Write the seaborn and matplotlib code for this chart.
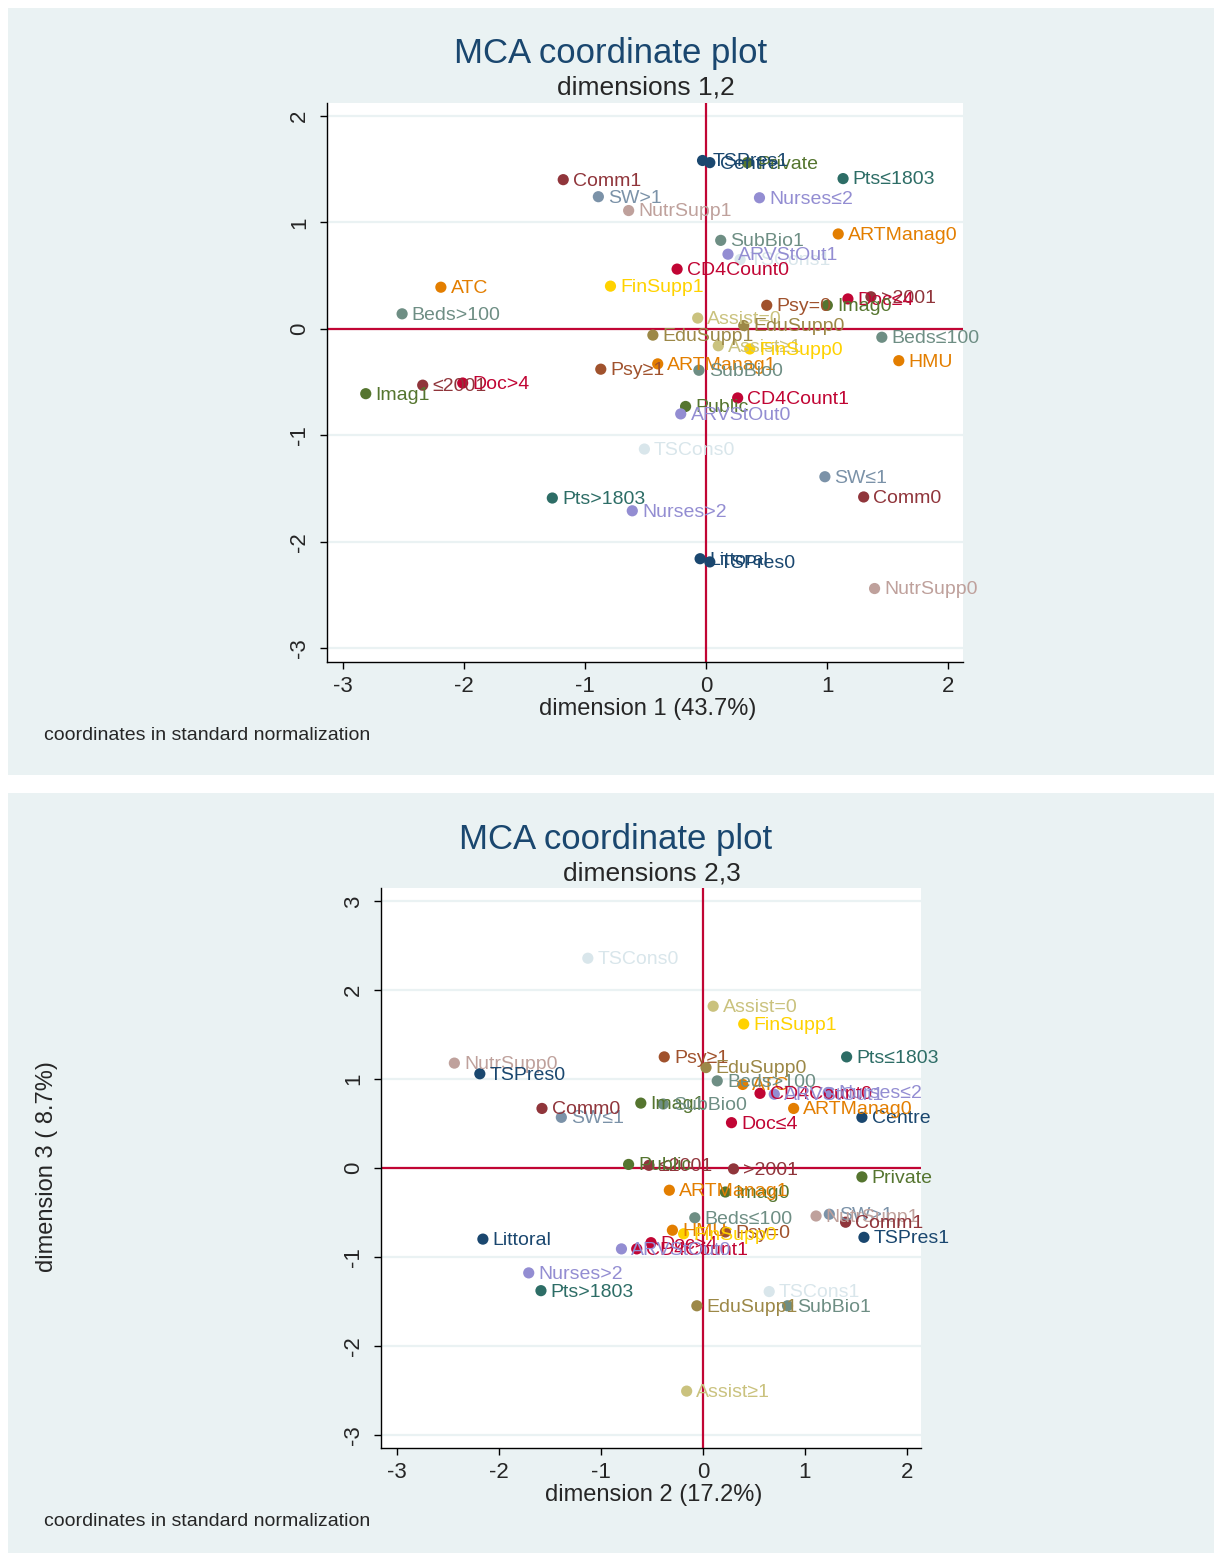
import numpy as np
import pandas as pd
import matplotlib
matplotlib.use("Agg")
import matplotlib.pyplot as plt
from matplotlib.patches import Rectangle
import seaborn as sns

# ---- data: MCA coordinates (variables in stata's order) ----
categories = ["Centre", "Littoral", "≤2001", ">2001", "Private", "Public",
              "ATC", "HMU", "Beds≤100", "Beds>100", "Doc≤4", "Doc>4",
              "Nurses≤2", "Nurses>2", "Assist=0", "Assist≥1", "Psy=0", "Psy≥1",
              "SW≤1", "SW>1", "Pts≤1803", "Pts>1803", "EduSupp0", "EduSupp1",
              "NutrSupp0", "NutrSupp1", "FinSupp0", "FinSupp1", "TSCons0", "TSCons1",
              "TSPres0", "TSPres1", "Comm0", "Comm1", "Imag0", "Imag1",
              "ARTManag0", "ARTManag1", "SubBio0", "SubBio1", "CD4Count0", "CD4Count1",
              "ARVStOut0", "ARVStOut1"]
dim1 = [0.03, -0.05, -2.34, 1.36, 0.34, -0.17,
        -2.19, 1.59, 1.45, -2.51, 1.17, -2.01,
        0.44, -0.61, -0.07, 0.10, 0.50, -0.87,
        0.98, -0.89, 1.13, -1.27, 0.31, -0.44,
        1.39, -0.64, 0.36, -0.79, -0.51, 0.28,
        0.03, -0.03, 1.30, -1.18, 1.00, -2.81,
        1.09, -0.40, -0.06, 0.12, -0.24, 0.26,
        -0.21, 0.18]
dim2 = [1.56, -2.16, -0.53, 0.30, 1.56, -0.73,
        0.39, -0.30, -0.08, 0.14, 0.28, -0.51,
        1.23, -1.71, 0.10, -0.16, 0.22, -0.38,
        -1.39, 1.24, 1.41, -1.59, 0.03, -0.06,
        -2.44, 1.11, -0.19, 0.40, -1.13, 0.65,
        -2.19, 1.58, -1.58, 1.40, 0.22, -0.61,
        0.89, -0.33, -0.39, 0.83, 0.56, -0.65,
        -0.80, 0.70]
dim3 = [0.57, -0.80, 0.03, -0.01, -0.10, 0.04,
        0.94, -0.70, -0.56, 0.98, 0.51, -0.84,
        0.85, -1.18, 1.82, -2.51, -0.72, 1.25,
        0.57, -0.52, 1.25, -1.38, 1.13, -1.55,
        1.18, -0.54, -0.74, 1.62, 2.36, -1.39,
        1.06, -0.78, 0.67, -0.61, -0.27, 0.73,
        0.67, -0.25, 0.72, -1.55, 0.84, -0.91,
        -0.91, 0.83]

# stata s2color cycle, one colour per variable (two categories each)
s2color = ["#1a476f", "#90353b", "#55752f", "#e37e00", "#6e8e84",
           "#c10534", "#938dd2", "#cac27e", "#a0522d", "#7b92a8",
           "#2d6d66", "#9c8847", "#bfa19c", "#ffd200", "#d9e6eb"]
colors = [s2color[(i // 2) % len(s2color)] for i in range(len(categories))]

df = pd.DataFrame({"label": categories, "d1": dim1, "d2": dim2, "d3": dim3})
palette = dict(zip(categories, colors))

sns.set_style("ticks")
plt.rcParams["font.family"] = ["Liberation Sans", "DejaVu Sans"]
plt.rcParams["axes.unicode_minus"] = False

W, H = 1214, 1553
fig = plt.figure(figsize=(W / 100, H / 100), dpi=100)
bg = "#eaf2f3"
red = "#c10534"

# graph regions
fig.add_artist(Rectangle((8 / W, 1 - 775 / H), 1 - 8 / W, 767 / H,
                         transform=fig.transFigure, facecolor=bg, edgecolor="none", zorder=-1))
fig.add_artist(Rectangle((8 / W, 0), 1 - 8 / W, 760 / H,
                         transform=fig.transFigure, facecolor=bg, edgecolor="none", zorder=-1))


def panel(rect, xcol, ycol, xlim, ylim, xticks, yticks):
    ax = fig.add_axes(rect)
    ax.set_facecolor("white")
    for t in yticks:
        ax.axhline(t, color=bg, lw=1.6, zorder=0)
    ax.axhline(0, color=red, lw=1.6, zorder=1)
    ax.axvline(0, color=red, lw=1.6, zorder=1)
    sns.scatterplot(data=df, x=xcol, y=ycol, hue="label", palette=palette,
                    legend=False, s=65, edgecolor="none", ax=ax, zorder=3)
    for lab, x, y, c in zip(df["label"], df[xcol], df[ycol], colors):
        ax.annotate(lab, (x, y), xytext=(7, -1), textcoords="offset points",
                    va="center", ha="left", fontsize=14, color=c, zorder=4)
    ax.set_xlim(*xlim)
    ax.set_ylim(*ylim)
    ax.set_xticks(xticks)
    ax.set_yticks(yticks)
    ax.set_xticklabels([str(t) for t in xticks])
    ax.set_yticklabels([str(t) for t in yticks], rotation=90, va="center")
    ax.tick_params(axis="both", labelsize=16, length=5, width=1, color="black")
    ax.tick_params(axis="x", pad=5)
    ax.tick_params(axis="y", pad=7)
    ax.set_xlabel("")
    ax.set_ylabel("")
    for side in ["top", "right"]:
        ax.spines[side].set_visible(False)
    for side in ["left", "bottom"]:
        ax.spines[side].set_color("black")
        ax.spines[side].set_linewidth(1)
    return ax


# top panel: dimensions 1,2
ax1 = panel([327 / W, 1 - 662 / H, (963 - 327) / W, (662 - 103) / H], "d1", "d2",
            (-3.13, 2.12), (-3.13, 2.12), [-3, -2, -1, 0, 1, 2], [-3, -2, -1, 0, 1, 2])
fig.text(611 / W, 1 - 53 / H, "MCA coordinate plot", ha="center", va="center",
         fontsize=25, color="#1a476f")
fig.text(646 / W, 1 - 88 / H, "dimensions 1,2", ha="center", va="center", fontsize=19)
fig.text(648 / W, 1 - 709 / H, "dimension 1 (43.7%)", ha="center", va="center", fontsize=17)
fig.text(44 / W, 1 - 736 / H, "coordinates in standard normalization", ha="left",
         va="center", fontsize=14)

# bottom panel: dimensions 2,3
ax2 = panel([381 / W, 1 - 1448 / H, (921 - 381) / W, (1448 - 888) / H], "d2", "d3",
            (-3.16, 2.14), (-3.15, 3.15), [-3, -2, -1, 0, 1, 2], [-3, -2, -1, 0, 1, 2, 3])
fig.text(616 / W, 1 - 839 / H, "MCA coordinate plot", ha="center", va="center",
         fontsize=25, color="#1a476f")
fig.text(652 / W, 1 - 873 / H, "dimensions 2,3", ha="center", va="center", fontsize=19)
fig.text(654 / W, 1 - 1495 / H, "dimension 2 (17.2%)", ha="center", va="center", fontsize=17)
fig.text(47 / W, 1 - 1167 / H, "dimension 3 ( 8.7%)", ha="center", va="center",
         rotation=90, fontsize=17)
fig.text(44 / W, 1 - 1522 / H, "coordinates in standard normalization", ha="left",
         va="center", fontsize=14)

fig.savefig("out.png", dpi=100, facecolor="white")
